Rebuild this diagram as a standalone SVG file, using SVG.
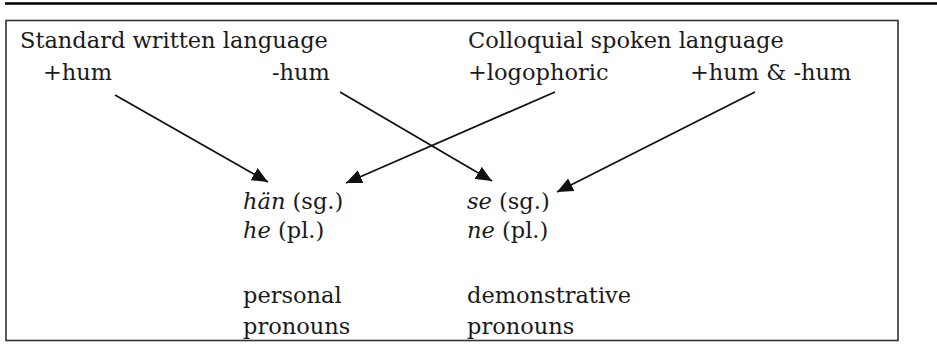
<svg xmlns="http://www.w3.org/2000/svg" width="937" height="348" viewBox="0 0 937 348">
  <style>
    text { font-family: "DejaVu Serif", "Liberation Serif", serif; font-size: 22.5px; fill: #1a1a1a; }
    .it { font-style: italic; }
    .conn { stroke: #111; stroke-width: 1.8; fill: none; marker-end: url(#ah); }
  </style>
  <defs>
    <marker id="ah" markerUnits="userSpaceOnUse" markerWidth="17" markerHeight="15" viewBox="0 0 17 15" refX="16" refY="7.5" orient="auto">
      <path d="M0,0.5 L16,7.5 L0,14.5 Z" fill="#111"/>
    </marker>
  </defs>
  <line x1="5" y1="3.5" x2="937" y2="3.5" stroke="#000" stroke-width="2.5"/>
  <rect x="6" y="20.5" width="892" height="320" fill="none" stroke="#333" stroke-width="1.6"/>

  <g id="standard-written">
    <text x="20" y="48">Standard written language</text>
  </g>
  <g id="colloquial-spoken">
    <text x="468" y="48">Colloquial spoken language</text>
  </g>
  <g id="plus-hum">
    <text x="43" y="80">+hum</text>
  </g>
  <g id="minus-hum">
    <text x="272" y="80">-hum</text>
  </g>
  <g id="logophoric">
    <text x="468" y="80">+logophoric</text>
  </g>
  <g id="plus-minus-hum">
    <text x="690" y="80">+hum &amp; -hum</text>
  </g>
  <g id="personal-pronouns">
    <text x="243" y="209"><tspan class="it">hän</tspan> (sg.)</text>
    <text x="243" y="238"><tspan class="it">he</tspan> (pl.)</text>
    <text x="243" y="303">personal</text>
    <text x="243" y="334">pronouns</text>
  </g>
  <g id="demonstrative-pronouns">
    <text x="467" y="209"><tspan class="it">se</tspan> (sg.)</text>
    <text x="467" y="238"><tspan class="it">ne</tspan> (pl.)</text>
    <text x="467" y="303">demonstrative</text>
    <text x="467" y="334">pronouns</text>
  </g>

  <g id="connectors">
    <line class="conn" x1="115" y1="95" x2="268" y2="182"/>
    <line class="conn" x1="340" y1="92" x2="492" y2="181"/>
    <line class="conn" x1="555" y1="92" x2="346" y2="183"/>
    <line class="conn" x1="755" y1="92" x2="557" y2="192"/>
  </g>
</svg>
